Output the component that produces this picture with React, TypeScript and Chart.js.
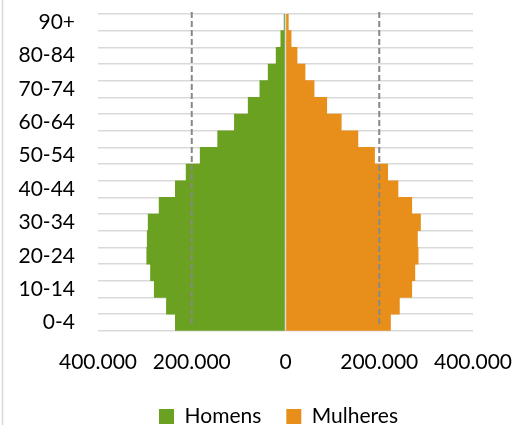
import { useEffect, useRef } from 'react';
import { Chart, registerables } from 'chart.js';

Chart.register(...registerables);

const ageGroups = ['0-4', '5-9', '10-14', '15-19', '20-24', '25-29', '30-34', '35-39', '40-44', '45-49', '50-54', '55-59', '60-64', '65-69', '70-74', '75-79', '80-84', '85-89', '90+'];
const homens = [235000, 254000, 280000, 288000, 296000, 295000, 293000, 269600, 235000, 212000, 182000, 144700, 109000, 79600, 54700, 37000, 20000, 10000, 3000];
const mulheres = [224000, 243000, 269400, 276000, 283000, 281500, 288000, 269400, 240000, 218000, 190000, 154500, 119000, 88000, 61000, 41700, 24700, 12000, 6000];
const referenceValues = [-200000, 200000];
const xTicks = [-400000, -200000, 0, 200000, 400000];

const FONT = 'Lato, "Open Sans", sans-serif';

const fmt = (v: number) => String(Math.abs(v)).replace(/\B(?=(\d{3})+(?!\d))/g, '.');

const overlayPlugin = {
  id: 'overlay',
  afterLayout(chart: any) {
    const l = chart.legend;
    if (l) {
      l.left += 42;
      l.right += 42;
    }
  },
  beforeDraw(chart: any) {
    const ctx = chart.ctx;
    ctx.save();
    ctx.fillStyle = '#ffffff';
    ctx.fillRect(0, 0, chart.width, chart.height);
    ctx.strokeStyle = '#d9d9d9';
    ctx.lineWidth = 1.5;
    ctx.beginPath();
    ctx.moveTo(2.5, 0);
    ctx.lineTo(2.5, chart.height);
    ctx.stroke();
    ctx.restore();
  },
  afterDatasetsDraw(chart: any) {
    const ctx = chart.ctx;
    const x = chart.scales.x;
    const area = chart.chartArea;
    ctx.save();
    const x0 = x.getPixelForValue(0);
    ctx.strokeStyle = '#d9d9d9';
    ctx.lineWidth = 1.5;
    ctx.beginPath();
    ctx.moveTo(x0, area.top);
    ctx.lineTo(x0, area.bottom);
    ctx.stroke();
    ctx.strokeStyle = '#888888';
    ctx.lineWidth = 2;
    ctx.setLineDash([6, 3]);
    referenceValues.forEach((v) => {
      const px = x.getPixelForValue(v);
      ctx.beginPath();
      ctx.moveTo(px, area.top - 2);
      ctx.lineTo(px, area.bottom - 4);
      ctx.stroke();
    });
    ctx.restore();
  },
};

export default function App() {
  const ref = useRef<HTMLCanvasElement>(null);
  useEffect(() => {
    document.body.style.margin = '0';
    const chart = new Chart(ref.current as HTMLCanvasElement, {
      type: 'bar',
      data: {
        labels: ageGroups,
        datasets: [
          {
            label: 'Homens',
            data: homens.map((v) => -v),
            backgroundColor: '#6aa121',
            borderWidth: 0,
            barPercentage: 1,
            categoryPercentage: 1,
          },
          {
            label: 'Mulheres',
            data: mulheres,
            backgroundColor: '#e88e1a',
            borderWidth: 0,
            barPercentage: 1,
            categoryPercentage: 1,
          },
        ],
      },
      options: {
        indexAxis: 'y',
        animation: false,
        responsive: false,
        maintainAspectRatio: false,
        layout: { padding: { left: 0, right: 45, top: 14, bottom: -12 } },
        scales: {
          x: {
            stacked: true,
            min: -400000,
            max: 400000,
            afterBuildTicks: (s: any) => {
              s.ticks = xTicks.map((v) => ({ value: v }));
            },
            afterFit: (s: any) => {
              s.height = s.height - 13;
              s.paddingLeft = 0;
              s.paddingRight = 0;
            },
            grid: { display: false, drawTicks: false },
            border: { display: false },
            ticks: {
              padding: 19,
              maxRotation: 0,
              color: '#000000',
              font: { family: FONT, size: 21 },
              callback: (v: any) => fmt(Number(v)),
            },
          },
          y: {
            stacked: true,
            reverse: true,
            afterFit: (s: any) => {
              s.width = 98;
              s.paddingTop = 0;
              s.paddingBottom = 0;
            },
            grid: { color: '#d9d9d9', lineWidth: 1.5, drawTicks: false, offset: true },
            border: { display: false },
            ticks: {
              autoSkip: false,
              padding: 23,
              color: '#000000',
              font: { family: FONT, size: 21 },
              callback: (_v: any, i: number) => (i % 2 === 0 ? ageGroups[i] : ''),
            },
          },
        },
        plugins: {
          legend: {
            position: 'bottom',
            labels: {
              boxWidth: 15,
              boxHeight: 15,
              padding: 25,
              color: '#000000',
              font: { family: FONT, size: 21 },
            },
          },
          tooltip: { enabled: false },
        },
      },
      plugins: [overlayPlugin],
    });
    return () => chart.destroy();
  }, []);
  return <canvas ref={ref} width={518} height={425} style={{ display: 'block' }} />;
}
